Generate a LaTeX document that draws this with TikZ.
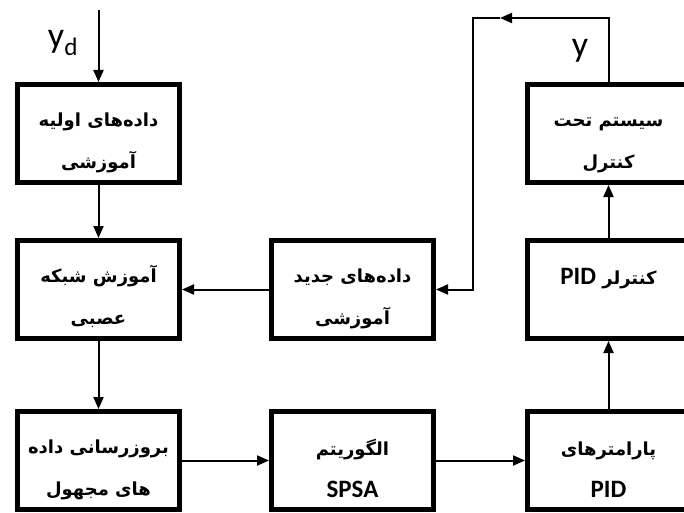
\documentclass[tikz,border=0pt]{standalone}
\usepackage{fontspec}
\setmainfont{Carlito}
\newfontfamily\farsifont[Script=Arabic]{DejaVu Sans}
\TeXXeTstate=1
\usetikzlibrary{arrows.meta, positioning}
\newcommand{\fa}[1]{{\farsifont\bfseries\beginR #1\endR}}
\newcommand{\en}[1]{{\normalfont\bfseries\fontsize{25pt}{42pt}\selectfont #1}}

\begin{document}
\begin{tikzpicture}[
                x=1pt, y=-1pt,
                block/.style={rectangle, draw=black, line width=5pt, minimum width=162pt, minimum height=98pt, align=center, font=\fontsize{18pt}{42pt}\selectfont, execute at begin node={\rule{0pt}{74pt}}},
                arr/.style={-{Triangle[length=12pt,width=10pt]}, line width=2pt},
                sig/.style={font=\fontsize{36pt}{36pt}\selectfont}
            ]
                \useasboundingbox (0,0) rectangle (684,513);
                \clip (0,0) rectangle (684,513);

                \node[block] (init) at (98.5,133.5) {\fa{داده‌های اولیه}\\ \fa{آموزشی}};
                \node[block, below=53pt of init] (train) {\fa{آموزش شبکه}\\ \fa{عصبی}};
                \node[block, below=68pt of train] (update) {\fa{بروزرسانی داده}\\ \fa{های مجهول}};
                \node[block, right=87pt of update] (spsa) {\fa{الگوریتم}\\ \en{SPSA}};
                \node[block, right=89pt of spsa] (param) {\fa{پارامترهای}\\ \en{PID}};
                \node[block, above=68pt of param] (pid) {\fa{کنترلر \beginL\en{PID}\endL}\\ ~};
                \node[block, above=53pt of pid] (plant) {\fa{سیستم تحت}\\ \fa{کنترل}};
                \node[block, right=87pt of train] (newdata) {\fa{داده‌های جدید}\\ \fa{آموزشی}};

                \coordinate (ydin) at (98.5,10);
                \coordinate (fbmid) at (500,18);
                \coordinate (fbturn) at (473,18);
                \node[sig] (yd) at (63,43) {y\textsubscript{d}};
                \node[sig] (y) at (580,51) {y};

                \draw[arr] (ydin) -- (init);
                \draw[arr] (init) -- (train);
                \draw[arr] (train) -- (update);
                \draw[arr] (update) -- (spsa);
                \draw[arr] (spsa) -- (param);
                \draw[arr] (param) -- (pid);
                \draw[arr] (pid) -- (plant);
                \draw[arr] (plant.north) |- (fbmid);
                \draw[arr] (fbmid) -- (fbturn) |- (newdata.east);
                \draw[arr] (newdata) -- (train);
            \end{tikzpicture}
\end{document}
